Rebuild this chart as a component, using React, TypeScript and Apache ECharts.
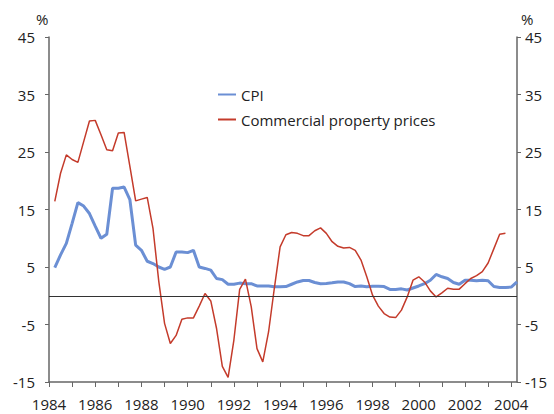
import React, { useEffect, useRef } from "react";
import * as echarts from "echarts";

// Quarterly observations, first point at 1984 Q2 (plotted at 1984.25)
const START_YEAR = 1984.25;
const STEP = 0.25;

const seriesNames = ["CPI", "Commercial property prices"];

const cpi = [
  4.9, 7.1, 9.1, 12.6, 16.2, 15.6, 14.3, 12.1, 10.0, 10.7, 18.7, 18.7, 18.9, 16.7, 8.8, 7.9,
  6.0, 5.6, 5.0, 4.6, 5.0, 7.6, 7.6, 7.5, 7.9, 5.0, 4.75, 4.45, 3.0, 2.8, 2.0, 2.0,
  2.2, 2.1, 2.1, 1.7, 1.7, 1.7, 1.55, 1.55, 1.6, 2.0, 2.4, 2.65, 2.65, 2.3, 2.1, 2.15,
  2.25, 2.4, 2.4, 2.1, 1.6, 1.7, 1.55, 1.65, 1.67, 1.6, 1.1, 1.1, 1.2, 1.0, 1.35, 1.7,
  2.1, 2.7, 3.7, 3.3, 3.0, 2.3, 2.0, 2.7, 2.7, 2.6, 2.7, 2.6, 1.6, 1.45, 1.45, 1.5,
  2.4,
];

const property = [
  16.4, 21.3, 24.5, 23.7, 23.2, 26.8, 30.4, 30.5, 28.0, 25.4, 25.2, 28.3, 28.4, 22.5, 16.5, 16.8,
  17.1, 11.7, 2.5, -4.8, -8.3, -6.9, -4.1, -3.85, -3.85, -1.8, 0.4, -0.9, -5.7, -12.3, -14.2, -7.7,
  1.1, 2.9, -1.9, -9.2, -11.5, -6.3, 1.3, 8.5, 10.6, 11.0, 10.85, 10.45, 10.45, 11.3, 11.8, 10.85,
  9.4, 8.6, 8.3, 8.4, 7.9, 6.2, 3.3, 0.1, -1.8, -3.1, -3.7, -3.8, -2.5, -0.2, 2.7, 3.3,
  2.4, 0.85, -0.2, 0.5, 1.3, 1.15, 1.15, 2.1, 3.0, 3.5, 4.2, 5.7, 8.2, 10.7, 10.85,
];

const X_MIN = 1984;
const X_MAX = 2004.25;
const Y_MIN = -15;
const Y_MAX = 45;
const Y_STEP = 10;

const FONT = "'Open Sans', 'Noto Sans', sans-serif";
const TEXT = "#222";
const AXIS = "#666";
const BLUE = "#6b8fd4";
const RED = "#c43b2b";

export default function App() {
  const ref = useRef<HTMLDivElement>(null);

  useEffect(() => {
    if (!ref.current) return;
    const chart = echarts.init(ref.current, null, { renderer: "svg" });
    const toPairs = (arr: number[]) => arr.map((v, i) => [START_YEAR + i * STEP, v]);

    const yAxisCommon = {
      type: "value",
      min: Y_MIN,
      max: Y_MAX,
      interval: Y_STEP,
      splitLine: { show: false },
      axisLine: { show: true, onZero: false, lineStyle: { color: AXIS, width: 1.5 } },
      axisTick: { show: true, length: 4, lineStyle: { color: AXIS, width: 1 } },
    };

    chart.setOption({
      animation: false,
      backgroundColor: "#fff",
      textStyle: { fontFamily: FONT },
      grid: { left: 49, right: 37, top: 37, bottom: 32, containLabel: false, outerBoundsMode: "none" },
      legend: {
        orient: "vertical",
        left: 212,
        top: 82,
        padding: 5,
        itemWidth: 18,
        itemHeight: 14,
        itemGap: 10,
        data: seriesNames,
        itemStyle: { color: "transparent", borderWidth: 0, opacity: 0 },
        textStyle: { color: TEXT, fontSize: 15, fontFamily: FONT },
      },
      xAxis: {
        type: "value",
        min: X_MIN,
        max: X_MAX,
        interval: 1,
        splitLine: { show: false },
        axisLine: { show: true, onZero: false, lineStyle: { color: AXIS, width: 1.5 } },
        axisTick: { show: true, length: 5, lineStyle: { color: AXIS, width: 1 } },
        axisLabel: {
          color: TEXT,
          fontSize: 15,
          fontFamily: FONT,
          margin: 14,
          showMaxLabel: false,
          formatter: (v: number) =>
            Math.abs(v - Math.round(v)) < 1e-6 && Math.round(v) % 2 === 0 ? String(Math.round(v)) : "",
        },
      },
      yAxis: [
        {
          ...yAxisCommon,
          position: "left",
          axisLabel: { color: TEXT, fontSize: 15, fontFamily: FONT, margin: 14 },
        },
        {
          ...yAxisCommon,
          position: "right",
          axisLabel: { color: TEXT, fontSize: 15, fontFamily: FONT, margin: 8 },
        },
      ],
      graphic: [
        {
          type: "text",
          left: 36,
          top: 11,
          style: { text: "%", fill: TEXT, font: `15px ${FONT}` },
        },
        {
          type: "text",
          left: 521,
          top: 11,
          style: { text: "%", fill: TEXT, font: `15px ${FONT}` },
        },
      ],
      series: [
        {
          name: seriesNames[0],
          type: "line",
          data: toPairs(cpi),
          symbol: "none",
          showSymbol: false,
          lineStyle: { color: BLUE, width: 3 },
          itemStyle: { color: BLUE },
          z: 3,
          markLine: {
            silent: true,
            symbol: "none",
            label: { show: false },
            lineStyle: { color: "#333", width: 1, type: "solid" },
            data: [{ yAxis: 0 }],
          },
        },
        {
          name: seriesNames[1],
          type: "line",
          data: toPairs(property),
          symbol: "none",
          showSymbol: false,
          lineStyle: { color: RED, width: 1.5 },
          itemStyle: { color: RED },
          z: 4,
        },
      ],
    });
    return () => chart.dispose();
  }, []);

  return (
    <div
      ref={ref}
      style={{ position: "absolute", left: 0, top: 0, width: 554, height: 414 }}
    />
  );
}
